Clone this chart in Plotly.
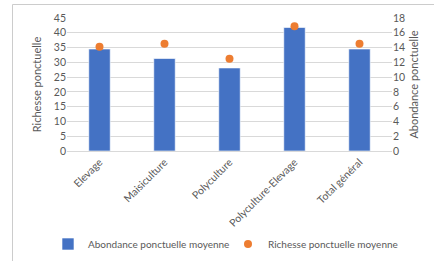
import plotly.graph_objects as go

categories = ["Elevage", "Maisiculture", "Polyculture", "Polyculture-Elevage", "Total général"]
abondance = [34.5, 31.3, 28.1, 41.8, 34.5]
richesse = [14.1, 14.5, 12.5, 16.9, 14.5]

FONT = "Lato"
GRAY = "#595959"

fig = go.Figure()
fig.add_trace(go.Bar(
    x=categories, y=abondance, name="Abondance ponctuelle moyenne",
    marker=dict(color="#4472C4", line=dict(color="rgba(255,255,255,0.6)", width=1)),
    width=0.33, yaxis="y",
))
fig.add_trace(go.Scatter(
    x=categories, y=richesse, name="Richesse ponctuelle moyenne",
    mode="markers", marker=dict(color="#ED7D31", size=8),
    yaxis="y2",
))

W, H = 434, 261
l, r, t, b = 67, 42, 18, 110
pw, ph = W - l - r, H - t - b

def px(xp):
    return (xp - l) / pw

def py(yp):
    return (H - b - yp) / ph

fig.update_layout(
    width=W, height=H,
    margin=dict(l=l, r=r, t=t, b=b, autoexpand=False),
    paper_bgcolor="white", plot_bgcolor="white",
    font=dict(family=FONT, size=10, color=GRAY),
    showlegend=True,
    bargap=0.67,
    xaxis=dict(
        tickangle=-45, showgrid=False, showline=True, linecolor="#d9d9d9",
        tickfont=dict(size=10.5, color=GRAY), ticks="",
    ),
    yaxis=dict(
        range=[0, 45], dtick=5, showgrid=True, gridcolor="#d9d9d9", gridwidth=1,
        zeroline=False, tickfont=dict(size=10.5, color=GRAY),
        title=dict(text="Richesse ponctuelle", font=dict(size=11, color=GRAY), standoff=9),
        ticks="", fixedrange=True,
    ),
    yaxis2=dict(
        range=[0, 18], dtick=2, overlaying="y", side="right", showgrid=False,
        zeroline=False, tickfont=dict(size=10.5, color=GRAY),
        title=dict(text="Abondance ponctuelle", font=dict(size=11, color=GRAY), standoff=6),
        ticks="",
    ),
    legend=dict(
        orientation="h", x=px(48), y=py(244), yanchor="middle", xanchor="left",
        font=dict(size=10, color=GRAY), entrywidth=135, entrywidthmode="pixels",
        itemwidth=30, bgcolor="rgba(0,0,0,0)",
    ),
    shapes=[
        dict(type="rect", xref="paper", yref="paper", x0=px(12.5), x1=px(445), y0=py(4.5), y1=py(270),
             line=dict(color="#cccccc", width=1), fillcolor="rgba(0,0,0,0)", layer="below"),
    ],
)

fig.write_html("out.html", config={"displayModeBar": False},
               post_script="document.body.style.margin='0';")
